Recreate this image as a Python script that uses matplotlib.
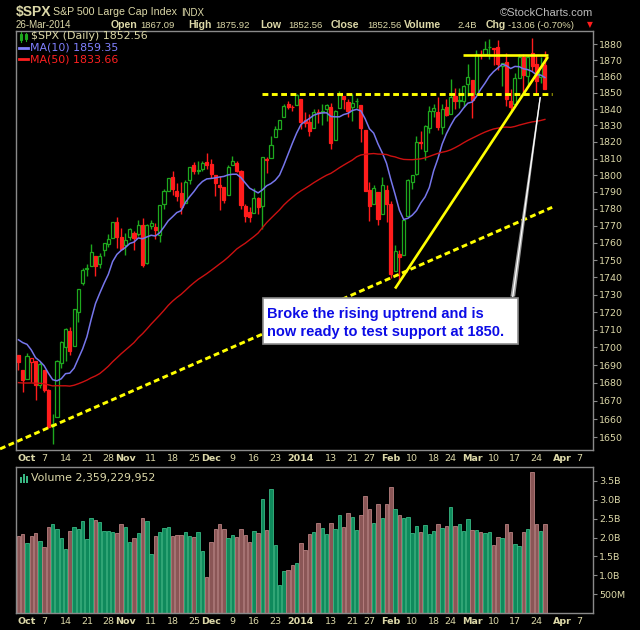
import numpy as np
import pandas as pd
import matplotlib
matplotlib.use("Agg")
import matplotlib.pyplot as plt
from matplotlib.patches import Rectangle, Polygon
from matplotlib.lines import Line2D
from matplotlib.ticker import FixedLocator, FixedFormatter, NullLocator

W, H = 640, 630

# ---- daily data, 27-Sep-2013 .. 26-Mar-2014 ----
dates = [
    "2013-09-27", "2013-09-30",
    "2013-10-01", "2013-10-02", "2013-10-03", "2013-10-04", "2013-10-07", "2013-10-08", "2013-10-09",
    "2013-10-10", "2013-10-11", "2013-10-14", "2013-10-15", "2013-10-16", "2013-10-17", "2013-10-18",
    "2013-10-21", "2013-10-22", "2013-10-23", "2013-10-24", "2013-10-25", "2013-10-28", "2013-10-29",
    "2013-10-30", "2013-10-31",
    "2013-11-01", "2013-11-04", "2013-11-05", "2013-11-06", "2013-11-07", "2013-11-08", "2013-11-11",
    "2013-11-12", "2013-11-13", "2013-11-14", "2013-11-15", "2013-11-18", "2013-11-19", "2013-11-20",
    "2013-11-21", "2013-11-22", "2013-11-25", "2013-11-26", "2013-11-27", "2013-11-29",
    "2013-12-02", "2013-12-03", "2013-12-04", "2013-12-05", "2013-12-06", "2013-12-09", "2013-12-10",
    "2013-12-11", "2013-12-12", "2013-12-13", "2013-12-16", "2013-12-17", "2013-12-18", "2013-12-19",
    "2013-12-20", "2013-12-23", "2013-12-24", "2013-12-26", "2013-12-27", "2013-12-30", "2013-12-31",
    "2014-01-02", "2014-01-03", "2014-01-06", "2014-01-07", "2014-01-08", "2014-01-09", "2014-01-10",
    "2014-01-13", "2014-01-14", "2014-01-15", "2014-01-16", "2014-01-17", "2014-01-21", "2014-01-22",
    "2014-01-23", "2014-01-24", "2014-01-27", "2014-01-28", "2014-01-29", "2014-01-30", "2014-01-31",
    "2014-02-03", "2014-02-04", "2014-02-05", "2014-02-06", "2014-02-07", "2014-02-10", "2014-02-11",
    "2014-02-12", "2014-02-13", "2014-02-14", "2014-02-18", "2014-02-19", "2014-02-20", "2014-02-21",
    "2014-02-24", "2014-02-25", "2014-02-26", "2014-02-27", "2014-02-28",
    "2014-03-03", "2014-03-04", "2014-03-05", "2014-03-06", "2014-03-07", "2014-03-10", "2014-03-11",
    "2014-03-12", "2014-03-13", "2014-03-14", "2014-03-17", "2014-03-18", "2014-03-19", "2014-03-20",
    "2014-03-21", "2014-03-24", "2014-03-25", "2014-03-26",
]

opens = [
    1695.5, 1687.3,
    1682.4, 1691.9, 1692.4, 1678.8, 1687.2, 1676.2, 1657.0,
    1660.9, 1691.1, 1699.9, 1709.2, 1700.5, 1720.2, 1736.7,
    1745.2, 1746.5, 1752.3, 1747.5, 1756.0, 1759.4, 1762.9,
    1772.3, 1763.2,
    1758.7, 1763.4, 1765.7, 1765.0, 1770.7, 1748.4, 1770.0,
    1769.5, 1764.4, 1782.8, 1790.7, 1798.8, 1790.8, 1789.6,
    1783.5, 1797.2, 1806.3, 1802.9, 1803.5, 1808.0,
    1806.6, 1800.1, 1794.2, 1792.8, 1788.4, 1806.2, 1807.6,
    1802.8, 1781.7, 1778.0, 1777.5, 1786.5, 1781.5, 1809.0,
    1810.4, 1822.9, 1828.0, 1835.0, 1843.0, 1841.5, 1842.6,
    1845.9, 1833.2, 1832.3, 1828.7, 1837.9, 1839.0, 1840.1,
    1841.3, 1821.4, 1840.5, 1848.0, 1844.2, 1841.1, 1844.7,
    1842.3, 1827.0, 1791.0, 1783.0, 1790.2, 1777.2, 1790.9,
    1782.7, 1743.8, 1753.4, 1753.0, 1776.0, 1796.2, 1800.5,
    1820.1, 1814.8, 1828.5, 1839.0, 1838.2, 1829.2, 1841.1,
    1836.8, 1847.7, 1845.8, 1844.9, 1855.1,
    1857.7, 1849.2, 1874.1, 1874.2, 1878.5, 1877.9, 1878.3,
    1866.2, 1869.1, 1845.1, 1842.8, 1858.9, 1872.3, 1860.1,
    1874.5, 1867.7, 1859.5, 1867.09,
]

highs = [
    1695.5, 1687.3,
    1696.6, 1693.9, 1692.4, 1691.9, 1687.2, 1676.8, 1662.5,
    1692.6, 1703.4, 1711.0, 1711.6, 1721.8, 1733.5, 1745.3,
    1747.8, 1759.3, 1752.3, 1753.9, 1759.8, 1765.0, 1772.1,
    1775.2, 1768.5,
    1765.7, 1768.8, 1767.0, 1773.7, 1774.5, 1770.8, 1773.4,
    1771.8, 1782.0, 1791.5, 1798.2, 1802.3, 1795.5, 1795.7,
    1797.2, 1804.8, 1808.1, 1808.4, 1808.3, 1813.6,
    1810.0, 1800.1, 1799.8, 1792.8, 1806.0, 1811.5, 1808.5,
    1803.0, 1783.0, 1780.9, 1792.2, 1786.8, 1811.1, 1810.9,
    1823.8, 1829.8, 1833.3, 1842.8, 1844.9, 1842.5, 1849.4,
    1845.9, 1838.2, 1837.2, 1840.1, 1840.0, 1843.2, 1843.2,
    1843.5, 1839.3, 1850.8, 1848.0, 1846.0, 1849.3, 1846.9,
    1842.3, 1827.0, 1796.0, 1793.9, 1790.2, 1798.8, 1793.9,
    1784.8, 1758.7, 1755.8, 1774.1, 1798.0, 1799.9, 1823.5,
    1826.6, 1830.3, 1841.7, 1842.9, 1847.5, 1842.8, 1846.1,
    1858.7, 1852.9, 1852.7, 1854.5, 1867.9,
    1857.7, 1876.2, 1876.5, 1881.9, 1883.6, 1877.9, 1882.4,
    1868.4, 1874.4, 1852.4, 1862.3, 1873.8, 1874.1, 1873.5,
    1884.0, 1873.3, 1871.9, 1875.92,
]

lows = [
    1687.1, 1675.0,
    1682.1, 1680.3, 1670.4, 1677.3, 1674.7, 1655.0, 1646.5,
    1660.9, 1688.5, 1692.1, 1695.9, 1700.5, 1714.1, 1735.7,
    1740.7, 1746.5, 1740.5, 1745.5, 1752.5, 1757.7, 1762.9,
    1757.2, 1755.7,
    1752.7, 1761.6, 1755.8, 1764.2, 1746.2, 1747.6, 1767.9,
    1762.3, 1760.6, 1780.2, 1790.7, 1788.0, 1784.7, 1777.2,
    1783.5, 1794.7, 1800.6, 1800.8, 1802.8, 1804.0,
    1798.6, 1787.9, 1779.1, 1783.4, 1788.4, 1806.2, 1801.8,
    1780.1, 1772.3, 1772.5, 1777.5, 1777.1, 1768.0, 1801.4,
    1810.3, 1822.9, 1828.0, 1835.0, 1839.8, 1838.8, 1842.4,
    1827.7, 1829.1, 1823.7, 1828.7, 1831.4, 1830.4, 1832.4,
    1815.5, 1821.4, 1840.5, 1840.3, 1835.2, 1832.4, 1840.9,
    1820.1, 1790.3, 1772.9, 1783.0, 1770.5, 1777.2, 1772.3,
    1739.7, 1743.8, 1737.9, 1753.0, 1776.0, 1791.8, 1800.4,
    1816.0, 1809.2, 1825.6, 1835.0, 1827.0, 1824.6, 1835.6,
    1836.8, 1840.2, 1840.7, 1841.1, 1847.7,
    1834.4, 1849.2, 1871.1, 1874.2, 1870.6, 1867.0, 1863.9,
    1854.4, 1841.9, 1839.6, 1842.8, 1858.9, 1850.4, 1854.6,
    1863.5, 1849.7, 1856.0, 1852.56,
]

closes = [
    1691.75, 1681.55,
    1695.00, 1693.87, 1678.66, 1690.50, 1676.12, 1655.45, 1656.40,
    1692.56, 1703.20, 1710.14, 1698.06, 1721.54, 1733.15, 1744.50,
    1744.66, 1754.67, 1746.38, 1752.07, 1759.77, 1762.11, 1771.95,
    1763.31, 1756.54,
    1761.64, 1767.93, 1762.97, 1770.49, 1747.15, 1770.61, 1771.89,
    1767.69, 1782.00, 1790.62, 1798.18, 1791.53, 1787.87, 1781.37,
    1795.85, 1804.76, 1802.48, 1802.75, 1807.23, 1805.81,
    1800.90, 1795.15, 1792.81, 1785.03, 1805.09, 1808.37, 1802.62,
    1782.22, 1775.50, 1775.32, 1786.54, 1781.00, 1810.65, 1809.60,
    1818.32, 1827.99, 1833.32, 1842.02, 1841.40, 1841.07, 1848.36,
    1831.98, 1831.37, 1826.77, 1837.88, 1837.49, 1838.13, 1842.37,
    1819.20, 1838.88, 1848.38, 1845.89, 1838.70, 1843.80, 1844.86,
    1828.46, 1790.29, 1781.56, 1792.50, 1774.20, 1794.19, 1782.59,
    1741.89, 1755.20, 1751.64, 1773.43, 1797.02, 1799.84, 1819.75,
    1819.26, 1829.83, 1838.63, 1840.76, 1828.75, 1839.78, 1836.25,
    1847.61, 1845.12, 1845.16, 1854.29, 1859.45,
    1845.73, 1873.91, 1873.81, 1877.03, 1878.04, 1877.17, 1867.63,
    1868.20, 1846.34, 1841.13, 1858.83, 1872.25, 1860.77, 1872.01,
    1866.52, 1857.44, 1865.62, 1852.56,
]

# volume, billions of shares
volume_b = [
    2.04, 2.09,
    1.85, 2.04, 2.11, 1.90, 1.75, 2.27, 2.35,
    2.22, 1.98, 1.69, 2.17, 2.27, 2.22, 2.43,
    1.96, 2.51, 2.46, 2.40, 2.17, 2.17, 2.14,
    2.11, 2.35,
    2.27, 1.88, 1.98, 2.11, 2.51, 2.43, 1.56,
    2.04, 2.14, 2.25, 2.27, 2.04, 2.06, 2.06,
    2.14, 2.04, 2.01, 2.14, 1.64, 0.96,
    1.88, 2.22, 2.35, 2.22, 1.98, 2.06, 2.01,
    2.22, 2.06, 1.88, 2.17, 2.11, 3.01, 2.19,
    3.30, 1.80, 0.75, 1.11, 1.14, 1.27, 1.32,
    1.85, 1.67, 2.09, 2.14, 2.38, 2.25, 2.09,
    2.38, 2.22, 2.59, 2.27, 2.64, 2.54, 2.19,
    2.61, 3.09, 2.75, 2.38, 2.88, 2.51, 2.90,
    3.35, 2.75, 2.61, 2.51, 2.54, 2.11, 2.30,
    2.14, 2.32, 2.09, 2.17, 2.35, 2.25, 2.30,
    2.82, 2.30, 2.35, 2.17, 2.48,
    2.19, 2.19, 2.14, 2.11, 2.14, 1.80, 2.01,
    1.98, 2.35, 2.14, 1.82, 1.77, 2.14, 2.22,
    3.75, 2.35, 2.17, 2.359,
]

# closes 19-Jul-2013 .. 26-Sep-2013, only used to seed the moving averages
prior_closes = [
    1692.09, 1695.53, 1692.39, 1685.94, 1690.25, 1691.65, 1685.33, 1685.96, 1685.73,
    1706.87, 1709.67, 1707.14, 1697.37, 1690.91, 1697.48, 1691.42, 1689.47, 1694.16,
    1685.39, 1661.32, 1655.83, 1646.06, 1652.35, 1642.80, 1656.96, 1663.50, 1656.78,
    1630.48, 1634.96, 1638.17, 1632.97,
    1639.77, 1653.08, 1655.08, 1655.17, 1671.71, 1683.99, 1689.13, 1683.42, 1687.99,
    1697.60, 1704.76, 1725.52, 1722.34, 1709.91, 1701.84, 1697.42, 1692.77, 1698.67,
]

# date axis labels (date, text, bold)
date_ticks = [
    ("2013-10-01", "Oct", True), ("2013-10-07", "7", False), ("2013-10-14", "14", False),
    ("2013-10-21", "21", False), ("2013-10-28", "28", False), ("2013-11-01", "Nov", True),
    ("2013-11-11", "11", False), ("2013-11-18", "18", False), ("2013-11-25", "25", False),
    ("2013-12-02", "Dec", True), ("2013-12-09", "9", False), ("2013-12-16", "16", False),
    ("2013-12-23", "23", False), ("2014-01-02", "2014", True), ("2014-01-13", "13", False),
    ("2014-01-21", "21", False), ("2014-01-27", "27", False), ("2014-02-03", "Feb", True),
    ("2014-02-10", "10", False), ("2014-02-18", "18", False), ("2014-02-24", "24", False),
    ("2014-03-03", "Mar", True), ("2014-03-10", "10", False), ("2014-03-17", "17", False),
    ("2014-03-24", "24", False), ("2014-04-01", "Apr", True), ("2014-04-07", "7", False),
]

price_ticks = list(range(1650, 1881, 10))
vol_ticks = [0.5, 1.0, 1.5, 2.0, 2.5, 3.0, 3.5]
vol_tick_labels = ["500M", "1.0B", "1.5B", "2.0B", "2.5B", "3.0B", "3.5B"]

# hand-drawn annotations, (bar index, price)
support_line = [(56.9, 1849.5), (124.7, 1849.5)]
top_line = [(103.9, 1873.3), (123.7, 1873.3)]
uptrend_line = [(88.0, 1733.5), (123.7, 1872.1)]
long_trend_line = [(-4.3, 1643.6), (124.7, 1780.9)]
pointer_line = [(115.5, 1728.9), (121.9, 1847.0)]
note_box = (57.1, 1701.6, 116.7, 1727.8)
note_lines = ["Broke the rising uptrend and is", "now ready to test support at 1850."]

TXT = "#dcd8a8"
GRID = "#8a8a8a"
GREEN = "#1ea81e"
RED = "#ff1c1c"
VGREEN = "#0f8a5c"
VGREEN_E = "#39b883"
VRED = "#8a5656"
VRED_E = "#b88080"
YELLOW = "#ffff00"


def fx(px):
    return px / W


def fy(py):
    return 1 - py / H


def bar_index(d):
    if d in dates:
        return dates.index(d)
    return len(dates) - 1 + int(np.busday_count(dates[-1], d))


def main():
    n = len(dates)
    x = np.arange(n)
    o = np.array(opens)
    h = np.array(highs)
    lo = np.array(lows)
    c = np.array(closes)
    prev = np.r_[prior_closes[-1], c[:-1]]
    up = c >= prev
    col = np.where(up, GREEN, RED)
    hollow = c >= o

    allc = pd.Series(prior_closes + closes)
    ma10 = allc.rolling(10).mean().values[-n:]
    ma50 = allc.rolling(50).mean().values[-n:]

    fig = plt.figure(figsize=(W / 100, H / 100), dpi=100, facecolor="black")
    ax = fig.add_axes([fx(16), fy(450), fx(593) - fx(16), fy(31) - fy(450)], facecolor="black")
    axv = fig.add_axes([fx(16), fy(613), fx(593) - fx(16), fy(467) - fy(613)], facecolor="black")

    # ---- price panel ----
    ax.set_yscale("log")
    ax.vlines(x, lo, h, colors=col, linewidth=1.0, zorder=3)
    body_lo = np.minimum(o, c)
    body_h = np.maximum(np.maximum(o, c) - body_lo, 0.25)
    ax.bar(x, body_h, bottom=body_lo, width=0.72,
           color=np.where(hollow, "black", col), edgecolor=col, linewidth=0.9, zorder=4)
    ax.plot(x, ma10, color="#7676ec", linewidth=1.1, zorder=5)
    ax.plot(x, ma50, color="#cc1111", linewidth=1.0, zorder=5)

    (x0, y0), (x1, y1) = support_line
    ax.plot([x0, x1], [y0, y1], color=YELLOW, linewidth=2.1, dashes=(2.0, 1.2), zorder=6)
    (x0, y0), (x1, y1) = long_trend_line
    ax.plot([x0, x1], [y0, y1], color=YELLOW, linewidth=2.1, dashes=(2.0, 1.2), zorder=6, clip_on=False)
    for (x0, y0), (x1, y1) in [top_line, uptrend_line]:
        ax.plot([x0, x1], [y0, y1], color=YELLOW, linewidth=1.9, solid_capstyle="butt", zorder=6)

    (px0, py0), (px1, py1) = pointer_line
    ax.add_patch(Polygon([(px0 - 0.55, py0), (px0 + 0.55, py0), (px1 + 0.15, py1), (px1 - 0.15, py1)],
                         closed=True, facecolor="#9a9a9a", edgecolor="none", zorder=7))
    ax.plot([px0, px1], [py0, py1], color="white", linewidth=0.9, zorder=7)

    bx0, by0, bx1, by1 = note_box
    ax.add_patch(Rectangle((bx0, by0), bx1 - bx0, by1 - by0, facecolor="white",
                           edgecolor="#8c8c8c", linewidth=1.2, zorder=8, clip_on=False))
    ax.text(bx0 + 0.9, 1719.0, note_lines[0], color="#0c0ce6", fontsize=10.5, fontweight="bold",
            family="Liberation Sans", va="center", ha="left", zorder=9)
    ax.text(bx0 + 0.9, 1708.6, note_lines[1], color="#0c0ce6", fontsize=10.5, fontweight="bold",
            family="Liberation Sans", va="center", ha="left", zorder=9)

    ax.set_ylim(1643.0, 1888.3)
    ax.yaxis.tick_right()
    ax.yaxis.set_major_locator(FixedLocator(price_ticks))
    ax.yaxis.set_major_formatter(FixedFormatter([str(t) for t in price_ticks]))
    ax.yaxis.set_minor_locator(NullLocator())

    # ---- volume panel ----
    axv.bar(x, volume_b, width=0.8, color=np.where(up, VGREEN, VRED),
            edgecolor=np.where(up, VGREEN_E, VRED_E), linewidth=0.6)
    axv.set_ylim(0, 3.87)
    axv.yaxis.tick_right()
    axv.set_yticks(vol_ticks)
    axv.set_yticklabels(vol_tick_labels)

    tick_pos = [bar_index(d) for d, _, _ in date_ticks]
    for a in (ax, axv):
        a.set_xlim(-0.57, 134.24)
        a.set_xticks(tick_pos)
        a.set_xticklabels([t for _, t, _ in date_ticks])
        for lab, (_, _, b) in zip(a.get_xticklabels(), date_ticks):
            lab.set_fontweight("bold" if b else "normal")
        a.tick_params(axis="x", length=0, pad=3, labelsize=6.8, labelcolor=TXT)
        a.tick_params(axis="y", which="both", direction="out", length=3, width=0.8,
                      color=GRID, pad=1.5, labelsize=6.8, labelcolor=TXT)
        for s in a.spines.values():
            s.set_color(GRID)
            s.set_linewidth(1.0)

    # ---- legends ----
    fig.add_artist(Rectangle((fx(19.5), fy(40)), fx(2.5), 6 / H, facecolor="none", edgecolor=GREEN, lw=0.8))
    fig.add_artist(Line2D([fx(20.7), fx(20.7)], [fy(42), fy(32)], color=GREEN, lw=0.8))
    fig.add_artist(Rectangle((fx(24.5), fy(39)), fx(2.5), 5 / H, facecolor="none", edgecolor=GREEN, lw=0.8))
    fig.add_artist(Line2D([fx(25.7), fx(25.7)], [fy(41), fy(33)], color=GREEN, lw=0.8))
    fig.text(fx(31), fy(36), f"$SPX (Daily) {closes[-1]:.2f}", color=TXT, fontsize=7.9, va="center")
    fig.add_artist(Line2D([fx(19), fx(28)], [fy(47.5), fy(47.5)], color="#8080ff", lw=2))
    fig.text(fx(29.5), fy(47.5), f"MA(10) {ma10[-1]:.2f}", color="#8080ff", fontsize=7.9, va="center")
    fig.add_artist(Line2D([fx(19), fx(28)], [fy(59), fy(59)], color="#ff2020", lw=2))
    fig.text(fx(29.5), fy(59), f"MA(50) {ma50[-1]:.2f}", color="#ff2020", fontsize=7.9, va="center")

    for i, hh in enumerate([6, 9, 7]):
        fig.add_artist(Rectangle((fx(20 + i * 3), fy(483)), fx(2.2), hh / H, facecolor=VGREEN_E,
                                 edgecolor="none"))
    fig.text(fx(31), fy(478.5), "Volume 2,359,229,952", color=TXT, fontsize=7.9, va="center")

    # ---- header ----
    fig.text(fx(16), fy(12), "$SPX", color=TXT, fontsize=10, fontweight="bold",
             family="Liberation Sans", va="center")
    fig.text(fx(53), fy(12), "S&P 500 Large Cap Index", color=TXT, fontsize=7.7,
             family="Liberation Sans", va="center")
    fig.text(fx(181), fy(12.5), "INDX", color=TXT, fontsize=7.0, family="Liberation Sans", va="center")
    fig.text(fx(593), fy(12.5), "\u00a9StockCharts.com", color="#bcbcbc", fontsize=8.0,
             family="Liberation Sans", va="center", ha="right")

    fig.text(fx(16), fy(25), "26-Mar-2014", color=TXT, fontsize=7.0, family="Liberation Sans", va="center")
    chg = closes[-1] - closes[-2]
    pieces = [
        (111, "Open", True), (140, f"{opens[-1]:.2f}", False),
        (188, "High", True), (215.5, f"{highs[-1]:.2f}", False),
        (260, "Low", True), (288, f"{lows[-1]:.2f}", False),
        (331, "Close", True), (367, f"{closes[-1]:.2f}", False),
        (404, "Volume", True), (457, "2.4B", False),
        (486, "Chg", True), (508, f"{chg:.2f} ({chg / closes[-2] * 100:.2f}%)", False),
    ]
    for px, s, b in pieces:
        fig.text(fx(px), fy(25), s, color=TXT, fontsize=7.6 if b else 6.8,
                 fontweight="bold" if b else "normal", family="Liberation Sans", va="center")
    fig.text(fx(589.5), fy(25), "\u25bc", color="#ff1c1c", fontsize=5.5, ha="center", va="center")

    fig.savefig("out.png", dpi=100, facecolor="black")
    plt.close(fig)


if __name__ == "__main__":
    main()
